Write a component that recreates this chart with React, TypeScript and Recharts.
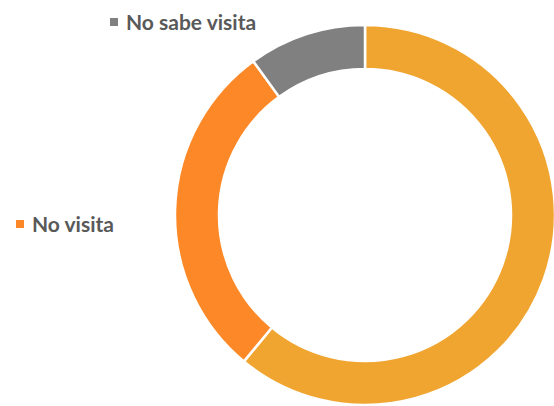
import React from "react";
import { PieChart, Pie, Cell } from "recharts";

const categories = ["Visita", "No visita", "No sabe visita"];
const values = [61, 29, 10];
const colors = ["#F0A531", "#FD8827", "#808080"];

const data = categories.map((name, i) => ({ name, value: values[i] }));

// legend labels placed like the original (only the ones visible in the frame)
const legendSpots = [
  { name: "No sabe visita", left: 110, top: 9 },
  { name: "No visita", left: 16, top: 211 },
];

export default function App() {
  return (
    <div style={{ position: "absolute", left: 0, top: 0, width: 554, height: 406, overflow: "hidden", background: "#fff" }}>
      <PieChart width={554} height={406} margin={{ top: 0, right: 0, bottom: 0, left: 0 }}>
        <Pie
          data={data}
          dataKey="value"
          nameKey="name"
          cx={365}
          cy={215}
          innerRadius={146}
          outerRadius={190}
          startAngle={90}
          endAngle={-270}
          stroke="#fff"
          strokeWidth={2.5}
          isAnimationActive={false}
        >
          {data.map((d, i) => (
            <Cell key={d.name} fill={colors[i]} />
          ))}
        </Pie>
      </PieChart>
      {legendSpots.map((s) => {
        const i = categories.indexOf(s.name);
        return (
          <div
            key={s.name}
            style={{
              position: "absolute",
              left: s.left,
              top: s.top,
              display: "flex",
              alignItems: "center",
              fontFamily: "Lato, sans-serif",
              fontSize: 21,
              fontWeight: 700,
              color: "#595959",
              whiteSpace: "nowrap",
            }}
          >
            <span style={{ display: "inline-block", width: 8, height: 8, background: colors[i], marginRight: 8 }} />
            {s.name}
          </div>
        );
      })}
    </div>
  );
}
